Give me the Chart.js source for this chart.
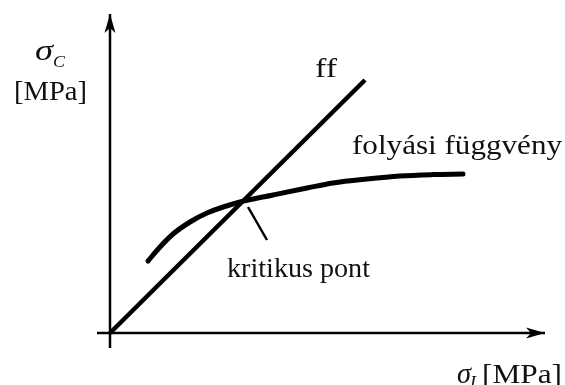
<!DOCTYPE html>
<html>
<head>
<meta charset="utf-8">
<script src="https://cdn.jsdelivr.net/npm/chart.js@4/dist/chart.umd.min.js"></script>
<style>
  html, body { margin: 0; padding: 0; background: #fff; }
  canvas { display: block; }
</style>
</head>
<body>
<canvas id="c" width="565" height="385"></canvas>
<script>
// Plot window (stress units, same scale on both axes)
const xRange = [-27.5, 113.75];
const yRange = [-13, 83.25];

// Axes: horizontal sigma_I axis and vertical sigma_C axis
const axisX = [{x: -3.25, y: 0}, {x: 108.75, y: 0}];
const axisY = [{x: 0, y: -3.75}, {x: 0, y: 79.75}];

// Loading line "ff" through the origin
const ffLine = [{x: 0, y: 0}, {x: 63.75, y: 63.25}];

// Yield function (folyási függvény)
const yieldX = [9.5, 12.5, 15.75, 20, 24.25, 32.5, 40.75, 49.25, 55.75, 64.25, 72.5, 80.75, 88.25];
const yieldY = [18, 21.5, 24.75, 27.75, 30, 32.75, 34.5, 36.25, 37.5, 38.5, 39.25, 39.6, 39.75];

// Pointer from the critical point to its label
const pointer = [{x: 34.5, y: 31.5}, {x: 39.25, y: 23.25}];

const yieldCurve = yieldX.map((x, i) => ({x, y: yieldY[i]}));

// Arrow heads at the positive ends of the axes
const arrowPlugin = {
  id: 'arrows',
  afterDatasetsDraw(chart) {
    const {ctx, scales: {x, y}} = chart;
    ctx.save();
    ctx.fillStyle = '#000';
    // x axis arrow
    let tx = x.getPixelForValue(axisX[1].x), ty = y.getPixelForValue(axisX[1].y);
    ctx.beginPath();
    ctx.moveTo(tx, ty);
    ctx.lineTo(tx - 19, ty - 5.5);
    ctx.lineTo(tx - 14, ty);
    ctx.lineTo(tx - 19, ty + 5.5);
    ctx.closePath();
    ctx.fill();
    // y axis arrow
    tx = x.getPixelForValue(axisY[1].x); ty = y.getPixelForValue(axisY[1].y);
    ctx.beginPath();
    ctx.moveTo(tx, ty);
    ctx.lineTo(tx - 5.5, ty + 19);
    ctx.lineTo(tx, ty + 14);
    ctx.lineTo(tx + 5.5, ty + 19);
    ctx.closePath();
    ctx.fill();
    ctx.restore();
  }
};

// Text labels anchored in data units
function drawText(ctx, text, px, py, font, width) {
  ctx.save();
  ctx.font = font;
  ctx.textBaseline = 'alphabetic';
  ctx.textAlign = 'left';
  const w = ctx.measureText(text).width;
  ctx.translate(px, py);
  if (width) ctx.scale(width / w, 1);
  ctx.fillText(text, 0, 0);
  ctx.restore();
}

const labelPlugin = {
  id: 'labels',
  afterDatasetsDraw(chart) {
    const {ctx, scales: {x, y}} = chart;
    const P = (ux, uy) => [x.getPixelForValue(ux), y.getPixelForValue(uy)];
    const serif = '"Liberation Serif", "Times New Roman", serif';
    ctx.fillStyle = '#111';
    let p;
    // vertical axis title
    p = P(-18.75, 68.25);
    drawText(ctx, 'σ', p[0], p[1], `italic 30px ${serif}`, 18);
    p = P(-14.25, 66.5);
    drawText(ctx, 'C', p[0], p[1], `italic 17px ${serif}`, 12);
    p = P(-24, 58.25);
    drawText(ctx, '[MPa]', p[0], p[1], `28px ${serif}`, 73);
    // horizontal axis title
    p = P(86.75, -12.5);
    drawText(ctx, 'σ', p[0], p[1], `italic 30px ${serif}`, 14);
    p = P(90, -13.5);
    drawText(ctx, 'I', p[0], p[1], `italic 17px ${serif}`, 6);
    p = P(93, -12.5);
    drawText(ctx, '[MPa]', p[0], p[1], `28px ${serif}`, 80);
    // curve labels
    p = P(51.25, 64);
    drawText(ctx, 'ff', p[0], p[1], `28px ${serif}`, 22);
    p = P(60.5, 44.75);
    drawText(ctx, 'folyási függvény', p[0], p[1], `28px ${serif}`, 210);
    p = P(29.25, 14);
    drawText(ctx, 'kritikus pont', p[0], p[1], `28px ${serif}`, 143);
  }
};

const line = (data, width, cap) => ({
  data,
  showLine: true,
  borderColor: '#000',
  borderWidth: width,
  borderCapStyle: cap || 'butt',
  pointRadius: 0,
  fill: false
});

const curve = line(yieldCurve, 5, 'round');
curve.cubicInterpolationMode = 'monotone';

new Chart(document.getElementById('c'), {
  type: 'scatter',
  data: {
    datasets: [
      line(axisX, 2.5),
      line(axisY, 2.5),
      line(ffLine, 4.5),
      curve,
      line(pointer, 2.5)
    ]
  },
  options: {
    responsive: false,
    devicePixelRatio: 1,
    animation: false,
    layout: { padding: 0 },
    plugins: { legend: { display: false }, tooltip: { enabled: false } },
    scales: {
      x: { type: 'linear', display: false, min: xRange[0], max: xRange[1] },
      y: { type: 'linear', display: false, min: yRange[0], max: yRange[1] }
    }
  },
  plugins: [arrowPlugin, labelPlugin]
});
</script>
</body>
</html>
